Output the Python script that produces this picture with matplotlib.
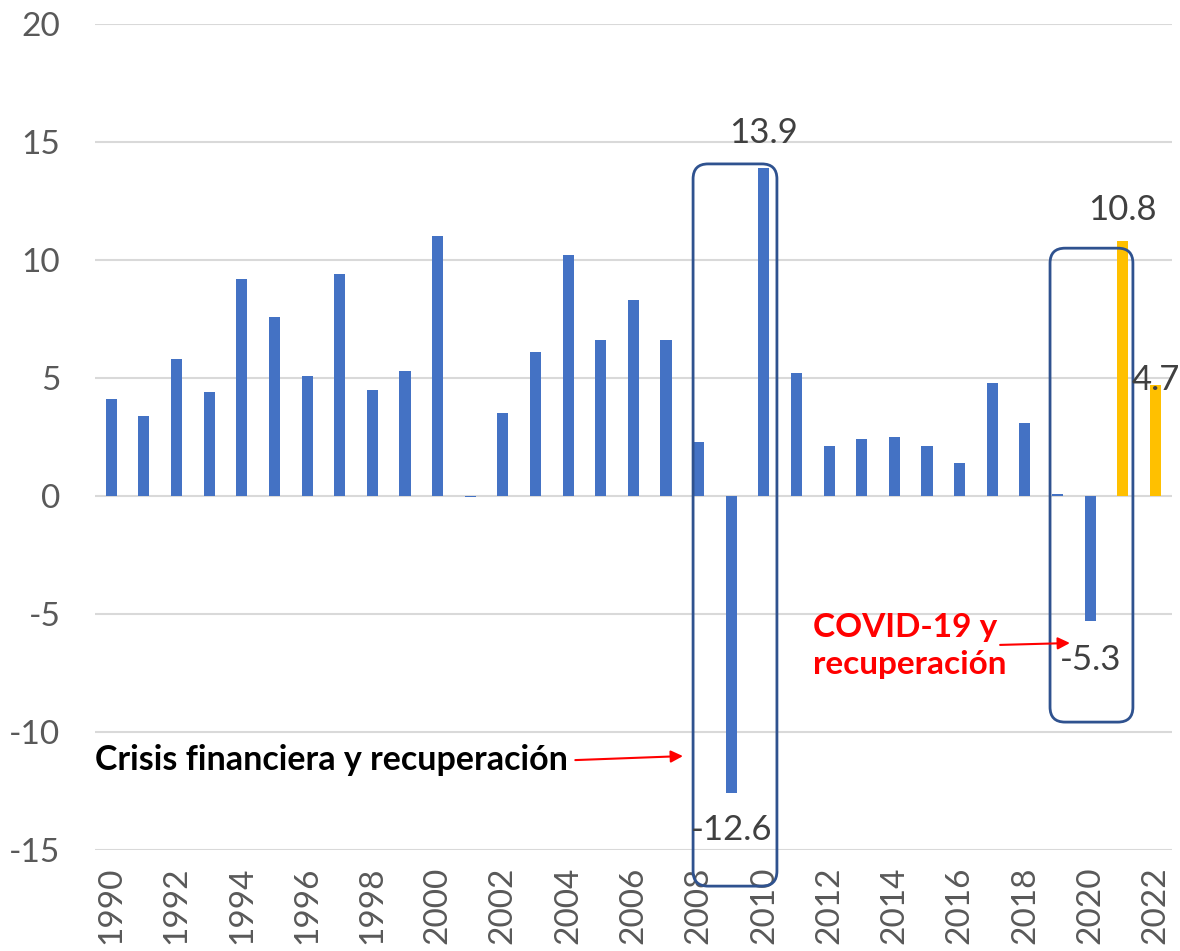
import matplotlib

matplotlib.use("Agg")
import matplotlib.pyplot as plt
from matplotlib.patches import FancyBboxPatch

# Crecimiento anual (%), 1990-2022
years = list(range(1990, 2023))
values = [4.1, 3.4, 5.8, 4.4, 9.2, 7.6, 5.1, 9.4, 4.5, 5.3,
          11.0, -0.05, 3.5, 6.1, 10.2, 6.6, 8.3, 6.6, 2.3, -12.6,
          13.9, 5.2, 2.1, 2.4, 2.5, 2.1, 1.4, 4.8, 3.1, 0.1,
          -5.3, 10.8, 4.7]
highlight_years = [2021, 2022]
labelled = {2009: "-12.6", 2010: "13.9", 2020: "-5.3", 2021: "10.8", 2022: "4.7"}
y_ticks = [-15, -10, -5, 0, 5, 10, 15, 20]

BLUE = "#4472C4"
GOLD = "#FFC000"
BOX = "#2F528F"
GREY_TXT = "#595959"
LBL = "#404040"

plt.rcParams["font.family"] = ["Lato", "DejaVu Sans"]

fig = plt.figure(figsize=(11.8, 9.51), dpi=100)
ax = fig.add_axes([0.0805, 0.1062, 0.9125, 0.8686])

x = list(range(len(years)))
colors = [GOLD if y in highlight_years else BLUE for y in years]
ax.bar(x, values, width=0.34, color=colors, zorder=2)

ax.set_xlim(-0.5, len(years) - 0.5)
ax.set_ylim(-15, 20)
ax.set_yticks(y_ticks)
ax.set_yticklabels([str(t) for t in y_ticks], fontsize=24, color=GREY_TXT)
ax.set_xticks(x[::2])
ax.set_xticklabels([str(y) for y in years[::2]], rotation=90,
                   fontsize=24, color=GREY_TXT)
ax.tick_params(axis="y", length=0, pad=25)
ax.tick_params(axis="x", length=0, pad=12)
ax.yaxis.grid(True, color="#D9D9D9", linewidth=1.5, zorder=0)
ax.set_axisbelow(True)
for s in ax.spines.values():
    s.set_visible(False)

# etiquetas de datos
label_pos = {2009: -14.15, 2010: 15.4, 2020: -6.95, 2021: 12.1, 2022: 4.9}
for i, yr in enumerate(years):
    if yr in labelled:
        ax.text(i, label_pos[yr], labelled[yr], ha="center", va="center",
                fontsize=25, color=LBL, zorder=4)

# recuadros redondeados
aspect = 32.64 / 23.6
for (x0, x1, y0, y1) in [(17.83, 20.40, -16.53, 14.07), (28.77, 31.31, -9.58, 10.5)]:
    box = FancyBboxPatch((x0, y0), x1 - x0, y1 - y0,
                         boxstyle="round,pad=0,rounding_size=0.46",
                         mutation_aspect=aspect, fill=False,
                         edgecolor=BOX, linewidth=2, clip_on=False, zorder=3)
    ax.add_patch(box)

# anotaciones
ax.annotate("", xy=(17.52, -11.02), xytext=(14.22, -11.19),
            arrowprops=dict(arrowstyle="-|>", color="red", lw=1.5,
                            mutation_scale=18, shrinkA=0, shrinkB=0))
ax.text(-0.5, -11.2, "Crisis financiera y recuperación", ha="left", va="center",
        fontsize=24.5, fontweight="bold", color="black")

ax.annotate("", xy=(29.38, -6.23), xytext=(27.24, -6.31),
            arrowprops=dict(arrowstyle="-|>", color="red", lw=1.5,
                            mutation_scale=18, shrinkA=0, shrinkB=0))
ax.text(21.5, -6.35, "COVID-19 y\nrecuperación", ha="left", va="center",
        fontsize=24, fontweight="bold", color="red", linespacing=1.35)

fig.savefig("out.png", dpi=100)
